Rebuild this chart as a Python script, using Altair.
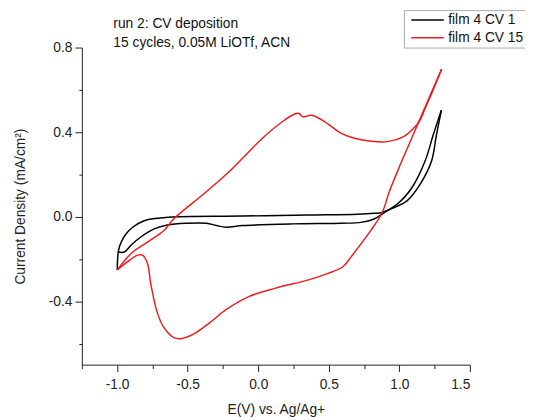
import altair as alt
import pandas as pd

# ---- data ----
cv1_x = [-0.999, -0.997, -0.990, -0.971, -0.936, -0.890, -0.808, -0.692, -0.575, -0.110, 0.356, 0.705,
         0.821, 0.879, 0.984, 1.089, 1.182, 1.240, 1.298,
         1.263, 1.228, 1.147, 1.054, 0.914, 0.821, 0.728, 0.589, 0.240, -0.110, -0.226, -0.296,
         -0.366, -0.506, -0.645, -0.738, -0.832, -0.902, -0.948, -0.994]
cv1_y = [-0.252, -0.206, -0.159, -0.120, -0.081, -0.050, -0.019, -0.006, 0.000, 0.003, 0.008, 0.012,
         0.016, 0.020, 0.059, 0.137, 0.262, 0.386, 0.503,
         0.386, 0.262, 0.153, 0.075, 0.028, -0.011, -0.027, -0.031, -0.034, -0.042, -0.050, -0.042,
         -0.031, -0.031, -0.039, -0.058, -0.096, -0.135, -0.167, -0.167]

cv15_x = [-0.999, -0.900, -0.785, -0.668, -0.598, -0.389, -0.203, -0.087, 0.030, 0.170, 0.263, 0.290,
          0.316, 0.379, 0.472, 0.589, 0.682, 0.800, 0.916, 1.031, 1.100, 1.147, 1.182, 1.240, 1.300,
          1.200, 1.100, 1.000, 0.930, 0.879, 0.798, 0.658, 0.600, 0.495, 0.356, 0.123, -0.063, -0.226, -0.343,
          -0.459, -0.540, -0.598, -0.668, -0.715, -0.762, -0.785, -0.820, -0.855, -0.925, -0.999]
cv15_y = [-0.252, -0.174, -0.120, -0.065, -0.010, 0.106, 0.215, 0.293, 0.371, 0.449, 0.487, 0.488,
          0.472, 0.480, 0.449, 0.394, 0.371, 0.357, 0.355, 0.379, 0.417, 0.457, 0.511, 0.600, 0.698,
          0.545, 0.390, 0.235, 0.120, 0.020, -0.065, -0.190, -0.237, -0.268, -0.299, -0.338, -0.377, -0.439, -0.501,
          -0.556, -0.576, -0.572, -0.525, -0.455, -0.315, -0.221, -0.182, -0.182, -0.213, -0.252]

series_names = ["film 4 CV 1", "film 4 CV 15"]
series_colors = ["#000000", "#ee1c1c"]

note_lines = ["run 2: CV deposition", "15 cycles, 0.05M LiOTf, ACN"]

x_ticks = [-1.25, -1.0, -0.75, -0.5, -0.25, 0.0, 0.25, 0.5, 0.75, 1.0, 1.25, 1.5]
y_ticks = [-0.6, -0.4, -0.2, 0.0, 0.2, 0.4, 0.6, 0.8]

# split each loop at its positive vertex so the smoothing keeps the sharp turn
rows = []
for name, xs, ys in [(series_names[0], cv1_x, cv1_y), (series_names[1], cv15_x, cv15_y)]:
    v = xs.index(max(xs))
    for i, (a, b) in enumerate(zip(xs, ys)):
        if i <= v:
            rows.append({"E": a, "J": b, "series": name, "seg": name + " fwd", "idx": i})
        if i >= v:
            rows.append({"E": a, "J": b, "series": name, "seg": name + " rev", "idx": i})
df = pd.DataFrame(rows)

FONT = "Liberation Sans"
FS = 14

x_axis = alt.Axis(
    values=x_ticks, format=".1f",
    labelExpr="abs(datum.value*2 - round(datum.value*2)) < 0.01 ? replace(datum.label, '\u2212', '-') : ''",
    tickSize={"condition": {"test": "abs(datum.value*2 - round(datum.value*2)) < 0.01", "value": 7}, "value": 4},
    grid=False, domainColor="#222", tickColor="#222", labelColor="#222", titleColor="#222",
    labelFont=FONT, titleFont=FONT, labelFontSize=FS, titleFontSize=FS, titleFontWeight="normal",
    labelPadding=6, titlePadding=12, domainWidth=1, tickWidth=1,
)
y_axis = alt.Axis(
    values=y_ticks, format=".1f",
    labelExpr="abs(datum.value/0.4 - round(datum.value/0.4)) < 0.01 ? replace(datum.label, '\u2212', '-') : ''",
    tickSize={"condition": {"test": "abs(datum.value/0.4 - round(datum.value/0.4)) < 0.01", "value": 7}, "value": 3},
    grid=False, domainColor="#222", tickColor="#222", labelColor="#222", titleColor="#222",
    labelFont=FONT, titleFont=FONT, labelFontSize=FS, titleFontSize=FS, titleFontWeight="normal",
    labelPadding=3, titlePadding=21, domainWidth=1, tickWidth=1,
)

lines = alt.Chart(df).mark_line(strokeWidth=1.5, clip=True, interpolate="catmull-rom").encode(
    x=alt.X("E:Q", title="E(V) vs. Ag/Ag+", scale=alt.Scale(domain=[-1.25, 1.5], nice=False, zero=False), axis=x_axis),
    y=alt.Y("J:Q", title="Current Density (mA/cm²)", scale=alt.Scale(domain=[-0.7, 0.8], nice=False, zero=False), axis=y_axis),
    color=alt.Color("series:N", scale=alt.Scale(domain=series_names, range=series_colors),
                    legend=alt.Legend(title=None, orient="none", legendX=327, legendY=-38,
                                      symbolType="M-3,0H3", symbolSize=121, symbolStrokeWidth=1.5,
                                      symbolOffset=14, labelOffset=14,
                                      labelFont=FONT, labelFontSize=FS, labelColor="#111",
                                      strokeColor="#aaa", padding=3, rowPadding=4,
                                      cornerRadius=0)),
    detail="seg:N",
    order="idx:Q",
)

notes_df = pd.DataFrame({"text": note_lines, "row": list(range(len(note_lines)))})
notes = alt.Chart(notes_df).mark_text(align="left", baseline="middle", font=FONT, fontSize=FS, color="#111").encode(
    x=alt.value(32),
    y=alt.Y("row:Q", axis=None, scale=alt.Scale(domain=[0, 1], range=[-24, -5], nice=False, zero=False)),
    text="text:N",
)

chart = alt.layer(lines, notes).resolve_scale(y="independent").properties(
    width=394, height=322,
    autosize=alt.AutoSizeParams(type="none"),
    padding={"left": 75, "top": 37, "right": 56, "bottom": 52},
).configure_view(stroke=None)

chart.save("out.html", embed_options={"renderer": "svg", "actions": False})
